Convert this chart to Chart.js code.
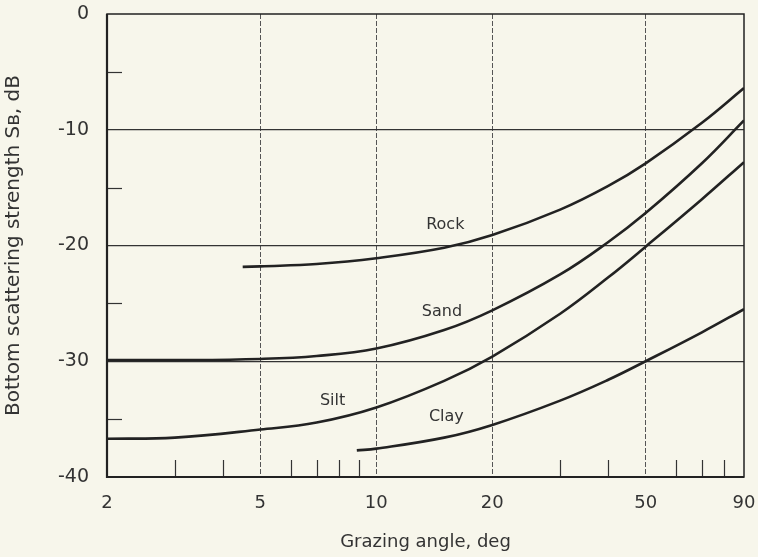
<!DOCTYPE html>
<html>
<head>
<meta charset="utf-8">
<script src="https://cdn.jsdelivr.net/npm/chart.js@4"></script>
<style>
  html, body { margin: 0; padding: 0; background: #f7f6eb; }
  #wrap { width: 758px; height: 557px; }
</style>
</head>
<body>
<div id="wrap"><canvas id="myChart" width="758" height="557"></canvas></div>
<script>
// grazing angle (deg) and bottom scattering strength (dB)
var rockX = [4.5, 5, 7, 10, 15, 20, 30, 40, 50, 70, 90]
var rockY = [-21.85, -21.8, -21.6, -21.1, -20.2, -19.1, -16.9, -14.85, -12.9, -9.4, -6.4]
var sandX = [2, 3, 5, 7, 10, 15, 20, 30, 40, 50, 70, 90]
var sandY = [-29.9, -29.9, -29.8, -29.55, -28.9, -27.3, -25.6, -22.5, -19.7, -17.2, -12.9, -9.2]
var siltX = [2, 3, 5, 7, 10, 15, 20, 30, 40, 50, 70, 90]
var siltY = [-36.7, -36.6, -35.9, -35.3, -34.0, -31.7, -29.6, -25.9, -22.75, -20.1, -16.0, -12.8]
var clayX = [8.9, 10, 15, 20, 30, 40, 50, 70, 90]
var clayY = [-37.7, -37.55, -36.6, -35.5, -33.4, -31.6, -30.0, -27.5, -25.5]

var xTickLabels = [2, 5, 10, 20, 50, 90]
var xGridAt = [5, 10, 20, 50]
var xMinorTicks = [3, 4, 6, 7, 8, 9, 30, 40, 60, 70, 80]
var yTickLabels = [0, -10, -20, -30, -40]
var yMinorTicks = [-5, -15, -25, -35]

var curveNames = ["Rock", "Sand", "Silt", "Clay"]
var nameX = [15.1, 14.8, 7.7, 15.2]
var nameY = [-18.2, -25.7, -33.4, -34.8]

function pts(xs, ys) {
  var out = []
  for (var i = 0; i < xs.length; i++) out.push({x: xs[i], y: ys[i]})
  return out
}

var ink = "#222"
var font = "'DejaVu Sans', sans-serif"

var bgPlugin = {
  id: "bg",
  beforeDraw: function(chart) {
    var c = chart.ctx
    c.save()
    c.fillStyle = "#f7f6eb"
    c.fillRect(0, 0, chart.width, chart.height)
    c.restore()
  }
}

var decoPlugin = {
  id: "deco",
  afterDatasetsDraw: function(chart) {
    var c = chart.ctx, a = chart.chartArea
    var xs = chart.scales.x, ys = chart.scales.y
    c.save()
    // minor ticks, pointing inward
    c.strokeStyle = "#333"
    c.lineWidth = 1.2
    xMinorTicks.forEach(function(v) {
      var px = Math.round(xs.getPixelForValue(v)) + 0.5
      c.beginPath(); c.moveTo(px, a.bottom); c.lineTo(px, a.bottom - 17); c.stroke()
    })
    yMinorTicks.forEach(function(v) {
      var py = Math.round(ys.getPixelForValue(v)) + 0.5
      c.beginPath(); c.moveTo(a.left, py); c.lineTo(a.left + 15, py); c.stroke()
    })
    // frame
    c.strokeStyle = ink
    c.lineWidth = 1.5
    c.strokeRect(a.left, a.top, a.right - a.left, a.bottom - a.top)
    c.lineWidth = 2.2
    c.beginPath()
    c.moveTo(a.left, a.top); c.lineTo(a.left, a.bottom); c.lineTo(a.right, a.bottom)
    c.stroke()
    // curve names
    c.fillStyle = "#333"
    c.font = "16px " + font
    c.textAlign = "center"
    c.textBaseline = "middle"
    for (var i = 0; i < curveNames.length; i++) {
      c.fillText(curveNames[i], xs.getPixelForValue(nameX[i]), ys.getPixelForValue(nameY[i]))
    }
    c.restore()
  }
}

function curve(label, xs, ys) {
  return {
    label: label,
    data: pts(xs, ys),
    showLine: true,
    borderColor: ink,
    borderWidth: 2.6,
    pointRadius: 0,
    tension: 0.4,
    fill: false
  }
}

var myChart = document.getElementById("myChart").getContext("2d")

var chart = new Chart(myChart, {
  type: "scatter",
  data: {
    datasets: [
      curve("Rock", rockX, rockY),
      curve("Sand", sandX, sandY),
      curve("Silt", siltX, siltY),
      curve("Clay", clayX, clayY)
    ]
  },
  options: {
    responsive: false,
    animation: false,
    layout: { padding: { left: 0, right: 14, top: 14, bottom: 0 } },
    plugins: { legend: { display: false }, tooltip: { enabled: false } },
    scales: {
      x: {
        type: "logarithmic",
        min: 2,
        max: 90,
        afterBuildTicks: function(scale) {
          scale.ticks = xTickLabels.map(function(v) { return {value: v} })
        },
        afterFit: function(scale) {
          scale.height = 80
          scale.paddingLeft = 0
          scale.paddingRight = 0
        },
        ticks: {
          color: "#333",
          font: { family: font, size: 18 },
          padding: 16,
          maxRotation: 0,
          callback: function(v) { return String(v) }
        },
        grid: {
          drawTicks: false,
          color: function(ctx) {
            return xGridAt.indexOf(ctx.tick && ctx.tick.value) >= 0 ? "#555" : "rgba(0,0,0,0)"
          },
          lineWidth: 1
        },
        border: { display: false, dash: [5, 2] },
        title: {
          display: true,
          text: "Grazing angle, deg",
          color: "#333",
          font: { family: font, size: 18 },
          padding: { top: 0, bottom: 4 }
        }
      },
      y: {
        min: -40,
        max: 0,
        afterBuildTicks: function(scale) {
          scale.ticks = yTickLabels.map(function(v) { return {value: v} })
        },
        afterFit: function(scale) {
          scale.width = 107
          scale.paddingTop = 0
          scale.paddingBottom = 0
        },
        ticks: {
          color: "#333",
          font: { family: font, size: 19 },
          padding: 18
        },
        grid: {
          drawTicks: false,
          color: function(ctx) {
            var v = ctx.tick && ctx.tick.value
            return (v === 0 || v === -40) ? "rgba(0,0,0,0)" : "#333"
          },
          lineWidth: 1.3
        },
        border: { display: false },
        title: {
          display: true,
          text: "Bottom scattering strength S\u0299, dB",
          color: "#333",
          font: { family: font, size: 20 },
          padding: { top: 2, bottom: 4 }
        }
      }
    }
  },
  plugins: [bgPlugin, decoPlugin]
})
</script>
</body>
</html>
